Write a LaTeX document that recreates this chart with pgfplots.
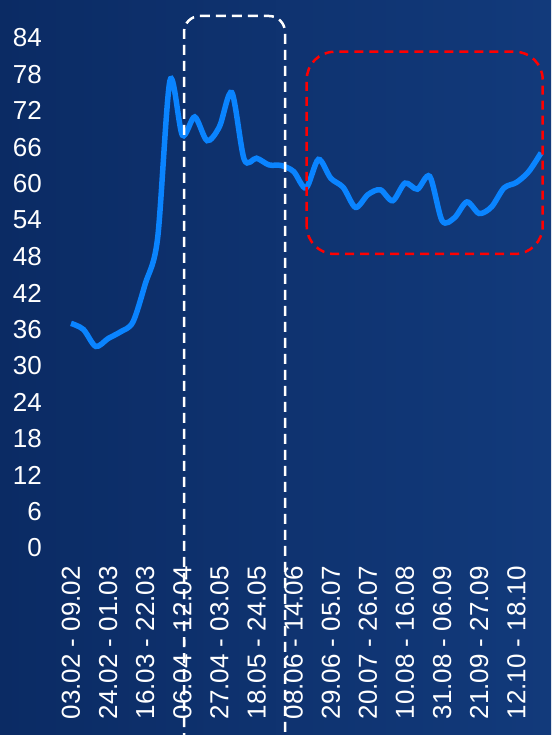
\documentclass[border=0pt]{standalone}
\usepackage{pgfplots}
\pgfplotsset{compat=1.18}
\usepackage{fontspec}
\setmainfont{Liberation Sans}
\definecolor{bgA}{HTML}{0B2B64}
\definecolor{bgB}{HTML}{123A7B}
\definecolor{linec}{HTML}{0A84FF}
\begin{document}
\begin{tikzpicture}
\path[use as bounding box] (-50pt,-187pt) rectangle (501pt,548pt);
\shade[left color=bgA, right color=bgB] (-50pt,-187pt) rectangle (501pt,548pt);
\begin{axis}[
  scale only axis, width=501pt, height=510pt,
  at={(0pt,0pt)}, anchor=south west,
  xmin=-1.698, xmax=38.80, ymin=0, ymax=84,
  axis line style={draw=none}, major tick length=0pt,
  ytick={0,6,...,84},
  xtick={0,3,...,36},
  xticklabels={03.02 - 09.02,24.02 - 01.03,16.03 - 22.03,06.04 - 12.04,27.04 - 03.05,18.05 - 24.05,08.06 - 14.06,29.06 - 05.07,20.07 - 26.07,10.08 - 16.08,31.08 - 06.09,21.09 - 27.09,12.10 - 18.10},
  /pgf/number format/assume math mode=true,
  ticklabel style={font=\fontsize{26}{29}\selectfont, text=white},
  yticklabel style={anchor=east, inner sep=0pt, xshift=-8pt},
  xticklabel style={rotate=90, anchor=east, inner sep=0pt, xshift=-18pt},
  clip=false,
]
\addplot[linec, line width=5.5pt, smooth, tension=0.5] coordinates {
(0,37) (1,36) (2,33.2) (3,34.5) (4,35.6) (5,37.2) (6,43.5) (7,51) (8,77) (9,68)
(10,71) (11,67.1) (12,69.4) (13,75) (14,64) (15,64.2) (16,63.1) (17,63) (18,62)
(19,59.3) (20,64) (21,60.9) (22,59.4) (23,56.1) (24,58.2) (25,59) (26,57.2)
(27,60.1) (28,59.1) (29,61.2) (30,53.9) (31,54.4) (32,57) (33,55.1) (34,56.2)
(35,59.3) (36,60.2) (37,62) (38,65.1)
};
\end{axis}
\draw[white, line width=2.5pt, dash pattern=on 10pt off 6pt, rounded corners=16pt]
  (134pt,-195pt) -- (134pt,532pt) -- (235pt,532pt) -- (235pt,-195pt);
\draw[red, line width=2.5pt, dash pattern=on 9pt off 6pt, rounded corners=28pt]
  (256.7pt,294pt) rectangle (492.7pt,496.3pt);
\end{tikzpicture}
\end{document}
